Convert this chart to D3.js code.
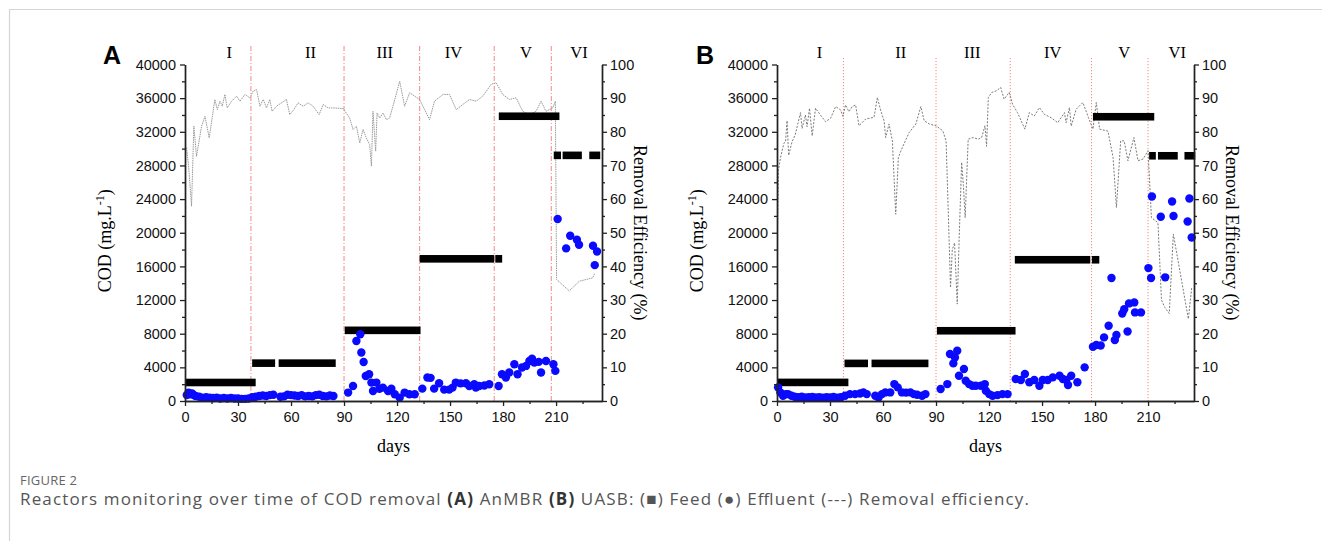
<!DOCTYPE html>
<html>
<head>
<meta charset="utf-8">
<script src="https://cdn.jsdelivr.net/npm/d3@7/dist/d3.min.js"></script>
<style>
  body { margin: 0; background: #fff; }
  svg text { font-family: "Liberation Sans", Arial, sans-serif; }
  .serif { font-family: "Liberation Serif", "Times New Roman", serif !important; }
</style>
</head>
<body>
<svg id="canvas" width="1322" height="541"></svg>
<script>
// ---- data ----
var phaseNames = ["I", "II", "III", "IV", "V", "VI"];

// panel A : AnMBR
var phaseLinesA = [37.3, 90, 132.8, 175, 207.3];
var phaseLabelDaysA = [25, 71, 113, 152, 193, 223];
var feedStartA = [0, 38, 53, 90.4, 132.8, 175.6, 177.6, 208.7, 213.7, 228.8];
var feedEndA   = [40, 51, 85.3, 133.3, 175, 179.5, 211.9, 212.8, 224.6, 235];
var feedA      = [2200, 4500, 4500, 8400, 16900, 16900, 33850, 29200, 29200, 29200];
var effDaysA = [0.9, 2.2, 3.7, 5, 6.5, 9.4, 11.3, 13.7, 16.9, 18.3, 19.8, 21.1, 22.6, 23.9, 26.4, 29.2, 31.1, 33.9, 36.7,
  38.6, 40.5, 42.4, 44.3, 46.1, 48, 49.3, 51.8, 57.4, 59.3, 61.6, 64, 66.9, 69.7, 72.5, 75.9, 78.2, 81, 83.8, 89.5,
  93.2, 95.1, 97, 98.9, 100.8, 102.6, 104.5, 105.5, 106.4, 107.9, 108.7, 110.2, 112.1, 114, 115.8, 117.7, 121.5,
  124.3, 127.1, 132.8, 135.6, 138.4, 141.2, 146, 149.7, 153.5, 157.2, 161, 164.8, 168.5, 173.3, 176.1, 179.8,
  183.6, 187.4, 191.1, 194.9, 198.7, 201.5, 204.3, 208.1, 209.6, 210.3, 217.5, 220, 223.2, 230.7, 232];
var effA = [75.3, 68.8, 57.9, 81.7, 72.7, 81.7, 84.6, 78.2, 89.6, 86.6, 89.1, 87.6, 91.1, 87.1, 89.1, 90.6, 89.1, 91.1, 90.1,
  92.1, 92.6, 87.6, 89.6, 87.1, 89.6, 86.1, 87.6, 89.6, 85.1, 86.6, 88.6, 87.6, 88.6, 87.6, 85.1, 88.1, 87.1, 87.1, 86.9,
  84.1, 80.7, 81.7, 76.7, 80.7, 78.2, 76.2, 69.8, 86.1, 74.2, 85.6, 84.1, 85.6, 83.6, 84.1, 87.6, 95.0,
  87.6, 91.6, 89.6, 86.6, 83.6, 89.1, 91.1, 91.1, 86.6, 88.1, 89.6, 89.1, 90.6, 94.1, 94.6, 91.1,
  89.6, 90.1, 86.1, 85.1, 86.1, 89.1, 86.1, 87.1, 89.1, 36.1, 32.7, 34, 35.6, 36.6, 38];
var outDaysA = [1, 2, 3, 4, 5, 6, 8, 10, 12, 14, 16, 18, 20, 22, 24, 26, 28, 30, 32, 34, 36,
  38, 40, 42, 44, 46, 48, 50,
  54, 56, 58, 60, 62, 64, 66, 68, 70, 72, 74, 76, 78, 80, 82, 84,
  92.3, 95.1, 97, 99.2, 99.8, 101.1, 102.3, 104.2, 105.5, 106.4, 108.3, 110, 112, 114.9, 116.8, 118.7, 121.5, 124.3, 127, 130, 134.3,
  137.2, 139, 141, 143.8, 146.7, 149.5, 151.4, 153.3, 156, 159, 160.9, 163.7, 164.6, 166.5, 169.4, 172.2, 177.5,
  179.4, 181.6, 183.5, 186.4, 188.2, 190.7, 193, 194.9, 196.4, 197.7, 200.2, 201.5, 204.3, 208.5, 209.6,
  210.9, 215.7, 218, 221.8, 223, 230.9, 231.9, 233.2];
var outA = [700, 1000, 800, 900, 700, 600, 500, 400, 450, 400, 350, 400, 300, 350, 300, 350, 300, 300, 250, 250, 300,
  450, 500, 600, 650, 600, 700, 750,
  500, 550, 750, 700, 650, 600, 700, 550, 600, 550, 700, 750, 600, 550, 650, 600,
  1000, 1790, 7140, 7940, 5760, 4640, 2980, 3180, 2190, 1190, 2190, 1450, 1590, 1190, 1450, 800, 400, 1000, 800, 800, 1470,
  2790, 2750, 1470, 2110, 1350, 1350, 1590, 2190, 2100, 2110, 1790, 2000, 1590, 1790, 1850, 1990, 1790,
  3180, 2790, 3380, 4370, 3180, 3980, 4170, 4760, 5020, 4570, 4650, 3380, 4760, 4370, 3580,
  21630, 18140, 19640, 19170, 18570, 18450, 16150, 17780];

// panel B : UASB
var phaseLinesB = [37.6, 90, 132, 178, 210];
var phaseLabelDaysB = [24, 70, 110.5, 156, 196.5, 226.5];
var feedStartB = [0, 38.2, 53.5, 90.5, 134.6, 178.2, 178.8, 210.6, 215.6, 230.6];
var feedEndB   = [40.4, 51.5, 85.7, 135, 177.3, 182.4, 213.5, 214.4, 226.8, 236.7];
var feedB      = [2210, 4470, 4470, 8350, 16790, 16790, 33790, 29150, 29150, 29150];
var effDaysB = [0.3, 0.8, 2, 3.9, 4.8, 5.7, 6.6, 8.5, 10.4, 13.3, 14.2, 16.1, 17, 18.4, 19.9, 21.8, 24.6, 27.5, 30.3, 33.2, 36, 37.3,
  38.8, 40.7, 42.6, 44.5, 46.4, 50.2, 54.9, 56.8, 58.7, 60.6, 61.5, 63.4, 65.3, 67.2, 68.7, 71, 74.8, 78.6, 81.4, 83.3, 86.2, 90,
  93.8, 95.7, 97, 98.2, 99.2, 100.5, 102, 103.2, 104.5, 105.5, 106.5, 108.2, 111, 113.9, 115.8, 117.7, 118.6, 119.6, 121.5, 124.3,
  126.6, 128.5, 131.4, 133.3, 136.1, 140.3, 142.8, 145.6, 148.5, 151.3, 155.1, 158.9, 162.7, 163.6, 165.5, 166.5, 169.3, 173.1,
  176.3, 178.8, 180.7, 182.6, 187.3, 190.2, 192.1, 194.5, 196.5, 198.6, 202, 204.3, 207.2, 210, 211.9, 215.6, 217.6, 219.5, 222,
  224.3, 229, 232.8, 234.7];
var effB = [51.6, 68.4, 72.4, 76.6, 77, 83.3, 73, 77, 79.3, 85.7, 81, 85, 81.5, 87, 78.8, 87, 85, 83, 84, 87.5, 86.5, 84.6,
  88, 86, 87.5, 88, 81.8, 83.8, 84.3, 90.2, 86.3, 83.3, 78.3, 82.3, 77.3, 55.5, 72.4, 75.4, 79.8, 82.3, 87.5, 83.3, 82.3, 81.8,
  80.3, 77.3, 55, 33.7, 45, 47, 28.8, 50, 70.9, 64, 54.5, 77.8, 78.3, 77.8, 78.3, 81.8, 75.7, 90.2, 91.7, 92.2,
  93.2, 89.7, 91.7, 88.2, 85.7, 80.8, 85.7, 84.7, 87.2, 85.2, 84.2, 82.7, 85.7, 82.7, 87.2, 81.7, 86.7, 88.7,
  84.2, 80.8, 88.7, 80.8, 80.2, 72.4, 57.5, 77.3, 77.3, 71.4, 78.3, 71.4, 71.9, 74.4, 54.5, 53, 30, 27.8, 26,
  49.6, 35.7, 24.4, 33.7];
var outDaysB = [0.6, 1.9, 3.4, 5, 6.3, 8.2, 10, 12, 14, 16, 18, 20, 22, 24, 26, 28, 30, 32, 34, 36,
  38.5, 41.3, 44.2, 47, 48.9, 50.8,
  55.6, 57.5, 59.4, 61.3, 64.1, 66.4, 68.3, 70.7, 73, 75.5, 77.4, 79.3, 82.1, 84,
  92.6, 96.4, 97.9, 99.8, 100.7, 102, 103, 105.8, 106.8, 108.7, 110.6, 112.5, 115.3, 117.6, 118.2, 120.1, 122, 124.8, 127.6, 130.5,
  135.1, 138, 140.3, 142.8, 145.6, 148.5, 150.4, 153.2, 156.1, 159.9, 161.8, 163.7, 164.7, 166.5, 170, 174.1,
  178.8, 180.7, 183.2, 185.1, 187.7, 189.3, 191.2, 192.1, 195.4, 196.5, 198.4, 199.2, 202.2, 202.6, 206,
  210.2, 211.7, 219.7, 212.2, 217.2, 223.6, 224.4, 232.4, 233.4, 234.7];
var outB = [1620, 1020, 620, 800, 820, 620, 500, 450, 500, 420, 450, 480, 420, 450, 400, 450, 420, 480, 400, 450,
  620, 820, 820, 900, 1020, 820,
  620, 420, 820, 1020, 1020, 2010, 1620, 1020, 1000, 1020, 820, 750, 620, 820,
  1420, 2010, 5580, 4470, 5180, 5980, 3010, 3800, 2410, 2010, 1810, 1810, 1810, 2010, 1220, 820, 620, 700, 820, 820,
  2610, 2500, 3210, 2220, 2500, 1810, 2500, 2500, 2810, 3010, 2610, 2500, 1900, 3010, 2220, 4000,
  6450, 6650, 6600, 7560, 8950, 14620, 7240, 7850, 10410, 10900, 8270, 11600, 11720, 10530, 10530,
  15800, 14620, 14700, 24310, 21900, 23720, 22000, 21340, 24070, 19440];

var codTicks = [0, 4000, 8000, 12000, 16000, 20000, 24000, 28000, 32000, 36000, 40000];
var effTicks = [0, 10, 20, 30, 40, 50, 60, 70, 80, 90, 100];
var dayTicks = [0, 30, 60, 90, 120, 150, 180, 210];

var svg = d3.select("#canvas");

// frame
svg.append("path")
    .attr("d", "M9.5,541V9.5H1322")
    .attr("fill", "none")
    .attr("stroke", "#d4d4d4")
    .attr("stroke-width", 1.2);

function drawPanel(p){
  var left = p.left, right = p.left + 417, top = 64.5, bottom = 401;
  var x = d3.scaleLinear().domain([0, 236]).range([left, right]);
  var y = d3.scaleLinear().domain([0, 40000]).range([bottom, top]);
  var y2 = d3.scaleLinear().domain([0, 100]).range([bottom, top]);
  var g = svg.append("g");

  // phase separators
  g.selectAll(".phase").data(p.phaseLines).enter().append("line")
      .attr("x1", function(d){ return x(d); }).attr("x2", function(d){ return x(d); })
      .attr("y1", p.phaseTop).attr("y2", bottom)
      .attr("stroke", "#f07a7a").attr("stroke-width", 0.9)
      .attr("stroke-dasharray", p.phaseDash);

  g.selectAll(".pname").data(phaseNames).enter().append("text")
      .attr("class", "serif")
      .attr("x", function(d, i){ return x(p.phaseLabels[i]); })
      .attr("y", 58)
      .attr("text-anchor", "middle")
      .attr("font-size", 16.5)
      .text(function(d){ return d; });

  // removal efficiency
  var eff = p.effDays.map(function(d, i){ return [d, p.eff[i]]; });
  g.append("path")
      .datum(eff)
      .attr("d", d3.line().x(function(d){ return x(d[0]); }).y(function(d){ return y2(d[1]); }))
      .attr("fill", "none")
      .attr("stroke", p.effColor)
      .attr("stroke-width", 1)
      .attr("stroke-dasharray", p.effDash);

  // feed
  g.selectAll(".feed").data(p.feed).enter().append("rect")
      .attr("x", function(d, i){ return x(p.feedStart[i]); })
      .attr("width", function(d, i){ return x(p.feedEnd[i]) - x(p.feedStart[i]); })
      .attr("y", function(d){ return y(d) - 3.8; })
      .attr("height", 7.6)
      .attr("fill", "#000");

  // effluent
  g.selectAll(".out").data(p.out).enter().append("circle")
      .attr("cx", function(d, i){ return x(p.outDays[i]); })
      .attr("cy", function(d){ return y(d); })
      .attr("r", 4.2)
      .attr("fill", "#0a0aff");

  // axes
  function styleAxis(sel){
    sel.selectAll("path").attr("stroke", "#222").attr("stroke-width", 1.4);
    sel.selectAll("line").attr("stroke", "#222").attr("stroke-width", 1.3);
    sel.selectAll("text").attr("font-size", 14.5).attr("fill", "#111")
        .attr("font-family", "Liberation Sans, Arial, sans-serif");
  }
  var fmt = d3.format("d");
  var minorCod = d3.range(2000, 40000, 4000);
  var minorEff = d3.range(5, 100, 10);
  var minorDay = d3.range(15, 236, 30);

  var ax = g.append("g").attr("transform", "translate(" + left + ",0)")
      .call(d3.axisLeft(y).tickValues(codTicks).tickFormat(fmt).tickSize(5).tickPadding(4).tickSizeOuter(0));
  g.append("g").attr("transform", "translate(" + left + ",0)")
      .call(d3.axisLeft(y).tickValues(minorCod).tickSize(3).tickFormat("").tickSizeOuter(0)).call(styleAxis);
  styleAxis(ax);

  var ax2 = g.append("g").attr("transform", "translate(" + right + ",0)")
      .call(d3.axisRight(y2).tickValues(effTicks).tickFormat(fmt).tickSize(5).tickPadding(3).tickSizeOuter(0));
  g.append("g").attr("transform", "translate(" + right + ",0)")
      .call(d3.axisRight(y2).tickValues(minorEff).tickSize(3).tickFormat("").tickSizeOuter(0)).call(styleAxis);
  styleAxis(ax2);

  var axx = g.append("g").attr("transform", "translate(0," + bottom + ")")
      .call(d3.axisBottom(x).tickValues(dayTicks).tickFormat(fmt).tickSize(5).tickPadding(6).tickSizeOuter(0));
  g.append("g").attr("transform", "translate(0," + bottom + ")")
      .call(d3.axisBottom(x).tickValues(minorDay).tickSize(3).tickFormat("").tickSizeOuter(0)).call(styleAxis);
  styleAxis(axx);

  // labels
  g.append("text")
      .attr("x", p.letterX).attr("y", 64)
      .attr("text-anchor", "middle")
      .attr("font-size", 25).attr("font-weight", "bold")
      .text(p.letter);

  var yl = g.append("text")
      .attr("class", "serif")
      .attr("transform", "translate(" + (left - 74) + "," + ((top + bottom) / 2 + 8) + ") rotate(-90)")
      .attr("text-anchor", "middle")
      .attr("font-size", 18);
  yl.append("tspan").text("COD (mg.L");
  yl.append("tspan").attr("font-size", 12).attr("dy", -7).text("-1");
  yl.append("tspan").attr("dy", 7).text(")");

  g.append("text")
      .attr("class", "serif")
      .attr("transform", "translate(" + (right + 32) + "," + ((top + bottom) / 2) + ") rotate(90)")
      .attr("text-anchor", "middle")
      .attr("font-size", 18)
      .text("Removal Efficiency (%)");

  g.append("text")
      .attr("class", "serif")
      .attr("x", (left + right) / 2).attr("y", 452)
      .attr("text-anchor", "middle")
      .attr("font-size", 18)
      .text("days");
}

drawPanel({
  left: 185, letter: "A", letterX: 112,
  phaseLines: phaseLinesA, phaseLabels: phaseLabelDaysA, phaseTop: 46, phaseDash: "5,2,1,2",
  feedStart: feedStartA, feedEnd: feedEndA, feed: feedA,
  effDays: effDaysA, eff: effA, effColor: "#9a9a9a", effDash: "1.5,0.8",
  outDays: outDaysA, out: outA
});
drawPanel({
  left: 777, letter: "B", letterX: 705,
  phaseLines: phaseLinesB, phaseLabels: phaseLabelDaysB, phaseTop: 58, phaseDash: "1.2,1.8",
  feedStart: feedStartB, feedEnd: feedEndB, feed: feedB,
  effDays: effDaysB, eff: effB, effColor: "#7a7a7a", effDash: "2,1.5",
  outDays: outDaysB, out: outB
});

// caption
svg.append("text")
    .attr("x", 20).attr("y", 485)
    .attr("font-size", 13)
    .attr("fill", "#666")
    .attr("textLength", 57)
    .attr("lengthAdjust", "spacing")
    .style("font-family", "'Open Sans', sans-serif")
    .text("FIGURE 2");

var cap2 = svg.append("text")
    .attr("x", 20).attr("y", 505)
    .attr("font-size", 17)
    .attr("fill", "#555")
    .attr("textLength", 1009)
    .attr("lengthAdjust", "spacing")
    .style("font-family", "'Open Sans', sans-serif");
cap2.append("tspan").text("Reactors monitoring over time of COD removal ");
cap2.append("tspan").attr("font-weight", "bold").attr("fill", "#333").text("(A)");
cap2.append("tspan").text(" AnMBR ");
cap2.append("tspan").attr("font-weight", "bold").attr("fill", "#333").text("(B)");
cap2.append("tspan").text(" UASB: (\u25A0) Feed (\u25CF) Effluent (---) Removal efficiency.");
</script>
</body>
</html>
